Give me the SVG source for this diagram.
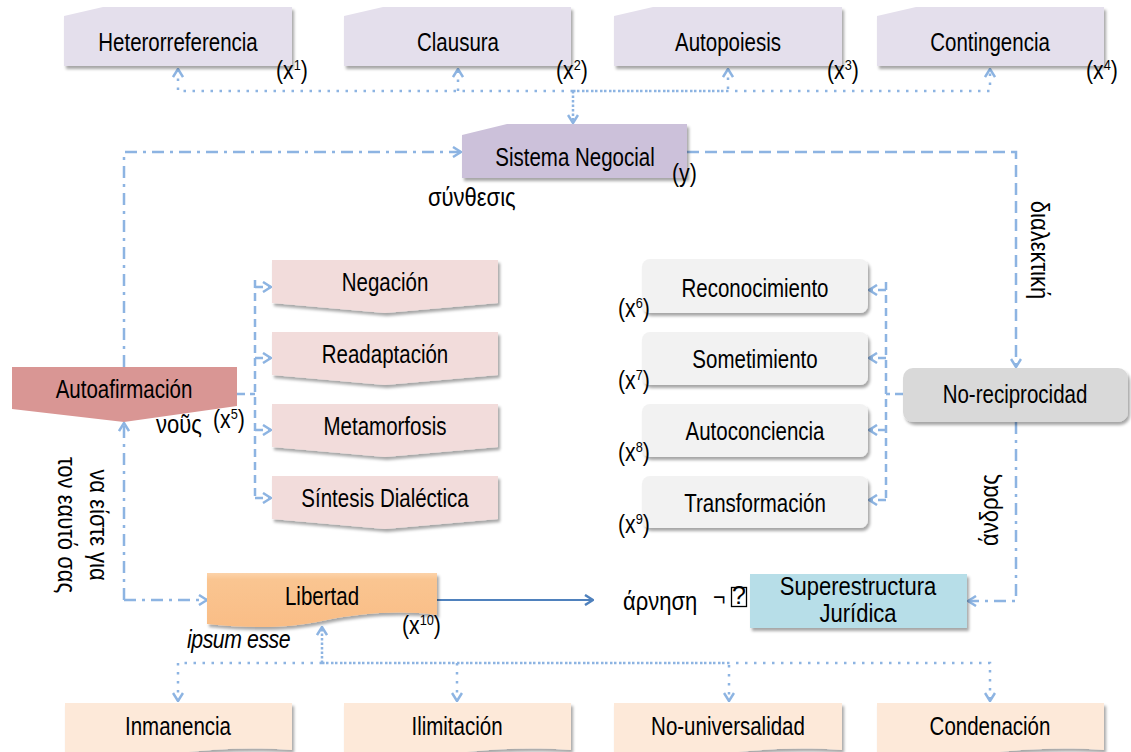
<svg xmlns="http://www.w3.org/2000/svg" width="1131" height="752" viewBox="0 0 1131 752">
<style>
.t{font-family:"Liberation Sans Narrow","Liberation Sans",Arial,sans-serif;font-size:25px;fill:#000;text-anchor:middle}
.l{font-family:"Liberation Sans Narrow","Liberation Sans",Arial,sans-serif;font-size:25px;fill:#000}
.s{font-size:15px}
.c{fill:none;stroke:#8DB4E2;stroke-width:2.5}
.dot{stroke-dasharray:2.5 6.5}
.dd{stroke-dasharray:2.5 2}
.da{stroke-dasharray:12 6}
.dm{stroke-dasharray:8 5}
.dc{stroke-dasharray:12 6 3 6}
.sh{filter:url(#sh)}
</style>
<defs>
<filter id="sh" x="-10%" y="-20%" width="125%" height="150%">
<feDropShadow dx="2" dy="3" stdDeviation="1.8" flood-color="#000" flood-opacity="0.35"/>
</filter>
<marker id="a" viewBox="0 0 10 12" refX="9" refY="6" markerWidth="10" markerHeight="12" markerUnits="userSpaceOnUse" orient="auto">
<path d="M1,1 L9,6 L1,11" fill="none" stroke="#8DB4E2" stroke-width="2.5"/>
</marker>
<marker id="b" viewBox="0 0 10 12" refX="9" refY="6" markerWidth="10" markerHeight="12" markerUnits="userSpaceOnUse" orient="auto">
<path d="M1,1 L9,6 L1,11" fill="none" stroke="#4F81BD" stroke-width="2.5"/>
</marker>
<linearGradient id="og" x1="0" y1="0" x2="0" y2="1">
<stop offset="0" stop-color="#FCD3AA"/>
<stop offset="0.12" stop-color="#FAC591"/>
<stop offset="1" stop-color="#F9BD86"/>
</linearGradient>
</defs>

<g id="connectors">
<path class="c dot" d="M573,91 H178 V69" marker-end="url(#a)"/>
<path class="c dot" d="M458,91 V69" marker-end="url(#a)"/>
<path class="c dot" d="M573,91 H990 V69" marker-end="url(#a)"/>
<path class="c dot" d="M577,91 H728 V69" marker-end="url(#a)"/>
<path class="c dd" d="M573,91 V123" marker-end="url(#a)"/>
<path class="c dc" d="M124,367 V152 H461" marker-end="url(#a)"/>
<path class="c da" d="M687,152 H1016 V367" marker-end="url(#a)"/>
<path class="c dm" d="M237,394 H255 M255,280 V500"/>
<path class="c dm" d="M255,287 H271" marker-end="url(#a)"/>
<path class="c dm" d="M255,358 H271" marker-end="url(#a)"/>
<path class="c dm" d="M255,430 H271" marker-end="url(#a)"/>
<path class="c dm" d="M255,498 H271" marker-end="url(#a)"/>
<path class="c dm" d="M903,394 H886 M886,282 V500"/>
<path class="c dm" d="M886,290 H869" marker-end="url(#a)"/>
<path class="c dm" d="M886,358 H869" marker-end="url(#a)"/>
<path class="c dm" d="M886,430 H869" marker-end="url(#a)"/>
<path class="c dm" d="M886,500 H869" marker-end="url(#a)"/>
<path class="c dc" d="M124,600 V423" marker-end="url(#a)"/>
<path class="c dc" d="M124,600 H207" marker-end="url(#a)"/>
<path fill="none" stroke="#4F81BD" stroke-width="2" d="M437,600 H593" marker-end="url(#b)"/>
<path class="c dc" d="M1016,422 V601 H968" marker-end="url(#a)"/>
<path class="c dot" d="M322,663 H178 V701" marker-end="url(#a)"/>
<path class="c dot" d="M322,663 H990 V701" marker-end="url(#a)"/>
<path class="c dot" d="M326,663 H729 V701" marker-end="url(#a)"/>
<path class="c dot" d="M457,663 V701" marker-end="url(#a)"/>
<path class="c dd" d="M322,663 V627" marker-end="url(#a)"/>
</g>

<g id="n-heterorreferencia">
<path class="sh" fill="#E4DFEC" d="M64,16 L103,7 H292 V66 H64 Z"/>
<text class="t" transform="translate(178,51) scale(.82,1)">Heterorreferencia</text>
<text class="l" transform="translate(276,79) scale(.85,1)">(x<tspan class="s" dy="-9">1</tspan><tspan dy="9">)</tspan></text>
</g>
<g id="n-clausura">
<path class="sh" fill="#E4DFEC" d="M344,16 L383,7 H571 V66 H344 Z"/>
<text class="t" transform="translate(458,51) scale(.82,1)">Clausura</text>
<text class="l" transform="translate(556,79) scale(.85,1)">(x<tspan class="s" dy="-9">2</tspan><tspan dy="9">)</tspan></text>
</g>
<g id="n-autopoiesis">
<path class="sh" fill="#E4DFEC" d="M614,16 L653,7 H842 V66 H614 Z"/>
<text class="t" transform="translate(728,51) scale(.82,1)">Autopoiesis</text>
<text class="l" transform="translate(827,79) scale(.85,1)">(x<tspan class="s" dy="-9">3</tspan><tspan dy="9">)</tspan></text>
</g>
<g id="n-contingencia">
<path class="sh" fill="#E4DFEC" d="M877,16 L916,7 H1104 V66 H877 Z"/>
<text class="t" transform="translate(990,51) scale(.82,1)">Contingencia</text>
<text class="l" transform="translate(1086,79) scale(.85,1)">(x<tspan class="s" dy="-9">4</tspan><tspan dy="9">)</tspan></text>
</g>

<g id="n-sistema">
<path class="sh" fill="#CCC1DA" d="M462,135 L507,124 H687 V178 H462 Z"/>
<text class="t" transform="translate(575,166) scale(.82,1)">Sistema Negocial</text>
<text class="l" transform="translate(672,182) scale(.85,1)">(y)</text>
<text class="l" transform="translate(428,206) scale(.88,1)">σύνθεσις</text>
</g>

<g id="n-autoafirmacion">
<path fill="#D99694" d="M12,367 H237 V406 L124,422 L12,409 Z"/>
<text class="t" transform="translate(124,398) scale(.82,1)">Autoafirmación</text>
<text class="l" transform="translate(156,433) scale(.88,1)">νοῦς</text>
<text class="l" transform="translate(213,428) scale(.85,1)">(x<tspan class="s" dy="-9">5</tspan><tspan dy="9">)</tspan></text>
</g>

<g id="n-negacion">
<path class="sh" fill="#F2DCDB" d="M272,260 H498 V303 L385,313 L272,303 Z"/>
<text class="t" transform="translate(385,291) scale(.82,1)">Negación</text>
</g>
<g id="n-readaptacion">
<path class="sh" fill="#F2DCDB" d="M272,332 H498 V375 L385,385 L272,375 Z"/>
<text class="t" transform="translate(385,363) scale(.82,1)">Readaptación</text>
</g>
<g id="n-metamorfosis">
<path class="sh" fill="#F2DCDB" d="M272,404 H498 V447 L385,457 L272,447 Z"/>
<text class="t" transform="translate(385,435) scale(.82,1)">Metamorfosis</text>
</g>
<g id="n-sintesis">
<path class="sh" fill="#F2DCDB" d="M272,476 H498 V519 L385,529 L272,519 Z"/>
<text class="t" transform="translate(385,507) scale(.82,1)">Síntesis Dialéctica</text>
</g>

<g id="n-reconocimiento">
<rect class="sh" fill="#F2F2F2" x="642" y="259" width="226" height="54" rx="8"/>
<text class="t" transform="translate(755,297) scale(.82,1)">Reconocimiento</text>
<text class="l" transform="translate(618,317) scale(.85,1)">(x<tspan class="s" dy="-9">6</tspan><tspan dy="9">)</tspan></text>
</g>
<g id="n-sometimiento">
<rect class="sh" fill="#F2F2F2" x="642" y="332" width="226" height="53" rx="8"/>
<text class="t" transform="translate(755,368) scale(.82,1)">Sometimiento</text>
<text class="l" transform="translate(618,389) scale(.85,1)">(x<tspan class="s" dy="-9">7</tspan><tspan dy="9">)</tspan></text>
</g>
<g id="n-autoconciencia">
<rect class="sh" fill="#F2F2F2" x="642" y="404" width="226" height="53" rx="8"/>
<text class="t" transform="translate(755,440) scale(.82,1)">Autoconciencia</text>
<text class="l" transform="translate(618,461) scale(.85,1)">(x<tspan class="s" dy="-9">8</tspan><tspan dy="9">)</tspan></text>
</g>
<g id="n-transformacion">
<rect class="sh" fill="#F2F2F2" x="642" y="476" width="226" height="52" rx="8"/>
<text class="t" transform="translate(755,512) scale(.82,1)">Transformación</text>
<text class="l" transform="translate(618,533) scale(.85,1)">(x<tspan class="s" dy="-9">9</tspan><tspan dy="9">)</tspan></text>
</g>

<g id="n-noreciprocidad">
<rect class="sh" fill="#D9D9D9" x="903" y="368" width="225" height="54" rx="10"/>
<text class="t" transform="translate(1015,403) scale(.82,1)">No-reciprocidad</text>
</g>

<g id="labels-rotated">
<text class="l" text-anchor="middle" transform="translate(1039,250) rotate(90) scale(.88,1)" y="8">διαλεκτική</text>
<text class="l" text-anchor="middle" transform="translate(990,510) rotate(-90) scale(.88,1)" y="8">άνδρας</text>
<text class="l" text-anchor="middle" transform="translate(97,525) rotate(90) scale(.88,1)" y="7">να είστε για</text>
<text class="l" text-anchor="middle" transform="translate(65,525) rotate(90) scale(.88,1)" y="7">τον εαυτό σας</text>
</g>

<g id="n-libertad">
<path class="sh" fill="url(#og)" d="M207,573 H437 V615 C400,610 360,613 322,621 C285,629 245,628 207,624 Z"/>
<text class="t" transform="translate(322,605) scale(.82,1)">Libertad</text>
<text class="l" transform="translate(402,634) scale(.85,1)">(x<tspan class="s" dy="-9">10</tspan><tspan dy="9">)</tspan></text>
<text class="l" transform="translate(187,648) scale(.85,1)" font-style="italic" letter-spacing="-0.5">ipsum esse</text>
</g>

<g id="n-negacion-label">
<text class="l" transform="translate(623,610) scale(.88,1)">άρνηση</text>
<text class="l" transform="translate(713,606) scale(.85,1)">¬</text>
<rect x="731.5" y="587.5" width="15" height="19" fill="none" stroke="#000" stroke-width="1.3"/>
<text class="l" x="739" y="604" text-anchor="middle" font-size="17px">?</text>
</g>

<g id="n-superestructura">
<rect class="sh" fill="#B7DEE8" x="750" y="574" width="217" height="54"/>
<text class="t" font-size="20px" transform="translate(858,595) scale(.88,1)">Superestructura</text>
<text class="t" font-size="20px" transform="translate(858,622) scale(.88,1)">Jurídica</text>
</g>

<g id="n-inmanencia">
<path class="sh" fill="#FDE9D9" d="M65,703 H292 V750 C250,747 215,749 178,753 C140,758 100,759 65,757 Z"/>
<text class="t" transform="translate(178,735) scale(.82,1)">Inmanencia</text>
</g>
<g id="n-ilimitacion">
<path class="sh" fill="#FDE9D9" d="M344,703 H571 V750 C529,747 494,749 457,753 C419,758 379,759 344,757 Z"/>
<text class="t" transform="translate(457,735) scale(.82,1)">Ilimitación</text>
</g>
<g id="n-nouniversalidad">
<path class="sh" fill="#FDE9D9" d="M614,703 H842 V750 C800,747 765,749 728,753 C690,758 650,759 614,757 Z"/>
<text class="t" transform="translate(728,735) scale(.82,1)">No-universalidad</text>
</g>
<g id="n-condenacion">
<path class="sh" fill="#FDE9D9" d="M877,703 H1104 V750 C1062,747 1027,749 990,753 C952,758 912,759 877,757 Z"/>
<text class="t" transform="translate(990,735) scale(.82,1)">Condenación</text>
</g>
</svg>
